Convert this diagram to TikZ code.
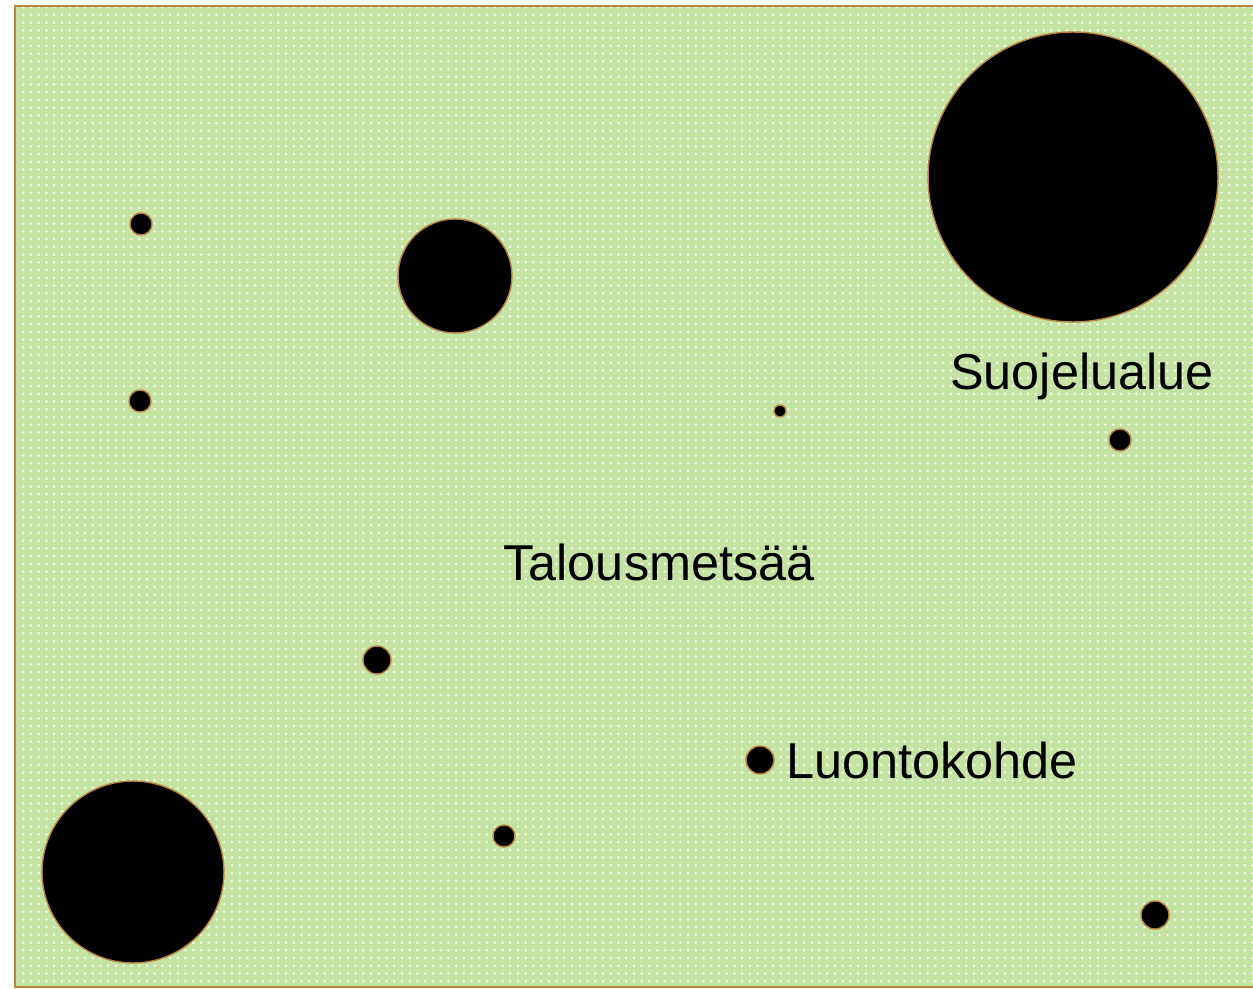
\documentclass[tikz,border=0pt]{standalone}
\usepackage{fontspec}
\setmainfont{Liberation Sans}
\usepackage{xcolor}
\usetikzlibrary{patterns.meta}
\definecolor{forest}{HTML}{C4E2A2}
\definecolor{rim}{HTML}{B8843F}
\tikzstyle{spot} = [circle, inner sep=0pt, fill=black, draw=rim, line width=0.8pt]
\tikzstyle{maptext} = [inner sep=0pt, font=\fontsize{28.7}{34}\selectfont]

\begin{document}
\begin{tikzpicture}[x=0.02cm, y=-0.02cm]
    \useasboundingbox (0,0) rectangle (1253,989);
    \clip (0,0) rectangle (1253,989);
    % metsaalue
    \draw[rim, line width=1.6pt, fill=forest] (15,6) rectangle (1290,987);
    \fill[pattern={Dots[distance=4.4pt, radius=0.8pt]}, pattern color=white!80!forest] (17,8) rectangle (1290,985);

    % suojelualueet
    \node[spot, minimum size=5.8cm] (suojelu) at (1073,177) {};
    \node[spot, minimum size=2.28cm] (keski) at (455,276) {};
    \node[spot, minimum size=3.64cm] (vasen) at (133,872) {};

    % luontokohteet
    \node[spot, minimum size=0.44cm] (k1) at (141,224) {};
    \node[spot, minimum size=0.44cm] (k2) at (140,401) {};
    \node[spot, minimum size=0.24cm] (k3) at (780,411) {};
    \node[spot, minimum size=0.44cm] (k4) at (1120,440) {};
    \node[spot, minimum size=0.56cm] (k5) at (377,660) {};
    \node[spot, minimum size=0.56cm] (kohde) at (760,760) {};
    \node[spot, minimum size=0.44cm] (k7) at (504,836) {};
    \node[spot, minimum size=0.56cm] (k8) at (1155,915) {};

    % tekstit
    \node[maptext] (suojeluteksti) at (1082,376) {Suojelualue};
    \node[maptext] (talous) at (659,562) {Talousmetsää};
    \node[maptext, anchor=west] (kohdeteksti) at (786,760) {Luontokohde};
\end{tikzpicture}
\end{document}
